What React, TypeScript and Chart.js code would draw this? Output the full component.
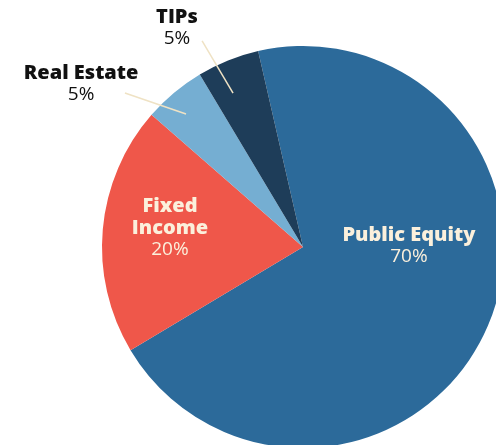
import React, { useEffect, useRef } from "react";
import { Chart, registerables } from "chart.js";

Chart.register(...registerables);

const categories = ["Public Equity", "Fixed Income", "Real Estate", "TIPs"];
const values = [70, 20, 5, 5];
const valueLabels = ["70%", "20%", "5%", "5%"];
const colors = ["#2c6a9a", "#ef574a", "#75aed2", "#1e3d59"];

// label layout (fractions of radius relative to pie centre)
const labelPos = [
  { x: 0.527, y: -0.06, lines: ["Public Equity"], color: "#fbf0dc" },
  { x: -0.662, y: -0.204, lines: ["Fixed", "Income"], color: "#fbf0dc" },
  { x: -1.104, y: -0.866, lines: ["Real Estate"], color: "#111111" },
  { x: -0.627, y: -1.144, lines: ["TIPs"], color: "#111111" },
];
const leaders = [
  null,
  null,
  { x1: -0.886, y1: -0.766, x2: -0.582, y2: -0.662 },
  { x1: -0.502, y1: -1.025, x2: -0.348, y2: -0.766 },
];

const labelPlugin = {
  id: "sliceLabels",
  afterDatasetsDraw(chart: any) {
    const ctx = chart.ctx;
    const arc = chart.getDatasetMeta(0).data[0];
    if (!arc) return;
    const cx = arc.x;
    const cy = arc.y;
    const r = arc.outerRadius;
    ctx.save();
    leaders.forEach((l) => {
      if (!l) return;
      ctx.strokeStyle = "#efe2c4";
      ctx.lineWidth = 1.5;
      ctx.beginPath();
      ctx.moveTo(cx + l.x1 * r, cy + l.y1 * r);
      ctx.lineTo(cx + l.x2 * r, cy + l.y2 * r);
      ctx.stroke();
    });
    ctx.textAlign = "center";
    ctx.textBaseline = "middle";
    labelPos.forEach((p, i) => {
      const x = cx + p.x * r;
      let y = cy + p.y * r;
      ctx.fillStyle = p.color;
      ctx.font = "800 20px 'Open Sans', sans-serif";
      p.lines.forEach((t) => {
        ctx.fillText(t, x, y);
        y += 22;
      });
      ctx.font = "19px 'Open Sans', sans-serif";
      ctx.fillText(valueLabels[i], x, y);
    });
    ctx.restore();
  },
};

export default function App() {
  const ref = useRef<HTMLCanvasElement>(null);
  useEffect(() => {
    const chart = new Chart(ref.current!, {
      type: "pie",
      data: {
        labels: categories,
        datasets: [
          {
            data: values,
            backgroundColor: colors,
            borderWidth: 0,
            clip: false as any,
          } as any,
        ],
      },
      options: {
        animation: false,
        responsive: false,
        rotation: -12.9,
        radius: 201,
        layout: { padding: { left: 110, right: 0, top: 49, bottom: 0 } },
        plugins: { legend: { display: false }, tooltip: { enabled: false } },
      } as any,
      plugins: [labelPlugin],
    });
    return () => chart.destroy();
  }, []);
  return (
    <div style={{ position: "fixed", left: 0, top: 0, width: 496, height: 445, overflow: "hidden", background: "#fff" }}>
      <canvas ref={ref} width={496} height={445} style={{ width: 496, height: 445 }} />
    </div>
  );
}
